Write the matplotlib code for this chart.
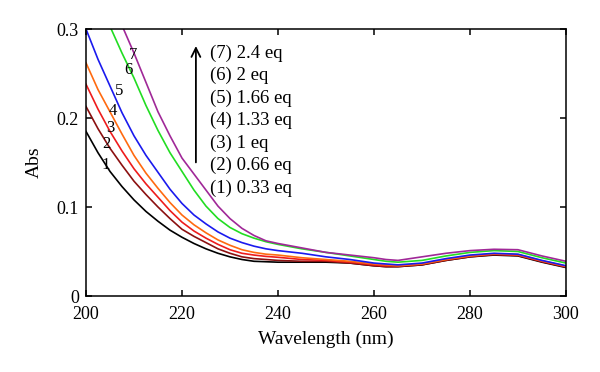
import matplotlib
matplotlib.use("Agg")
import matplotlib.pyplot as plt

plt.rcParams['font.family'] = ['Liberation Serif', 'DejaVu Serif']

wavelength = [200, 202.5, 205, 207.5, 210, 212.5, 215, 217.5, 220, 222.5, 225, 227.5,
              230, 232.5, 235, 237.5, 240, 245, 250, 255, 260, 262.5, 265, 270, 275,
              280, 285, 290, 295, 300]

abs_1 = [.185, .161, .140, .123, .108, .095, .084, .074, .066, .059, .053, .048,
         .044, .041, .039, .0385, .038, .038, .038, .037, .034, .033, .033, .035, .040,
         .044, .046, .045, .038, .032]
abs_2 = [.213, .188, .166, .147, .129, .114, .100, .087, .075, .067, .060, .053,
         .048, .044, .042, .041, .040, .039, .039, .037, .034, .033, .033, .035, .040,
         .044, .0465, .0455, .0385, .0325]
abs_3 = [.238, .210, .185, .163, .143, .126, .111, .096, .083, .073, .065, .058,
         .052, .048, .046, .0445, .0435, .041, .040, .038, .035, .034, .034, .036, .041,
         .045, .047, .046, .039, .033]
abs_4 = [.262, .232, .207, .182, .158, .138, .121, .105, .091, .080, .071, .063,
         .057, .052, .049, .047, .046, .043, .041, .039, .036, .035, .034, .036, .041,
         .045, .0475, .0465, .0395, .0335]
abs_5 = [.300, .266, .236, .206, .180, .158, .139, .120, .104, .091, .081, .072,
         .065, .060, .056, .053, .051, .048, .044, .041, .037, .036, .035, .037, .042,
         .046, .048, .047, .040, .034]
abs_6 = [.360, .332, .303, .273, .245, .214, .186, .161, .140, .119, .101, .087,
         .077, .070, .065, .061, .058, .053, .049, .045, .041, .039, .038, .040, .045,
         .049, .051, .050, .043, .037]
abs_7 = [.420, .380, .340, .304, .273, .240, .207, .180, .155, .137, .119, .101,
         .087, .076, .068, .062, .059, .054, .049, .046, .043, .041, .040, .044, .048,
         .051, .0525, .052, .045, .039]

series = [abs_1, abs_2, abs_3, abs_4, abs_5, abs_6, abs_7]
colors = ['#000000', '#8b1010', '#ee1c1c', '#ff6a10', '#1a1aee', '#22dd22', '#a02898']
curve_labels = ['1', '2', '3', '4', '5', '6', '7']
label_pos = [(204.0, .147), (204.2, .171), (205.0, .189), (205.6, .208),
             (206.9, .230), (208.8, .254), (209.9, .271)]
legend_text = ['(7) 2.4 eq', '(6) 2 eq', '(5) 1.66 eq', '(4) 1.33 eq',
               '(3) 1 eq', '(2) 0.66 eq', '(1) 0.33 eq']

fig = plt.figure(figsize=(6.0, 3.72), dpi=100)
ax = fig.add_axes([0.1433, 0.2043, 0.80, 0.7177])

for y, c in zip(series, colors):
    ax.plot(wavelength, y, color=c, lw=1.2)

for lab, (x, y) in zip(curve_labels, label_pos):
    ax.text(x, y, lab, fontsize=12, ha='center', va='center')

for i, t in enumerate(legend_text):
    ax.text(225.8, .273 - i * .0253, t, fontsize=13.5, ha='left', va='center')

ax.annotate('', xy=(222.9, .284), xytext=(222.9, .147),
            arrowprops=dict(arrowstyle='->', color='black', lw=1.3,
                            mutation_scale=16))

ax.set_xlim(200, 300)
ax.set_ylim(0, 0.3)
ax.set_xticks([200, 220, 240, 260, 280, 300])
ax.set_yticks([0, 0.1, 0.2, 0.3])
ax.set_yticklabels(['0', '0.1', '0.2', '0.3'])
ax.tick_params(direction='in', top=True, right=True, length=4.5, width=1.1,
               labelsize=13)
ax.tick_params(axis='x', pad=7)
ax.tick_params(axis='y', pad=5)
for s in ax.spines.values():
    s.set_linewidth(1.1)
ax.set_xlabel('Wavelength (nm)', fontsize=14, labelpad=6)
ax.set_ylabel('Abs', fontsize=14, labelpad=10)

fig.savefig('out.png', dpi=100)
